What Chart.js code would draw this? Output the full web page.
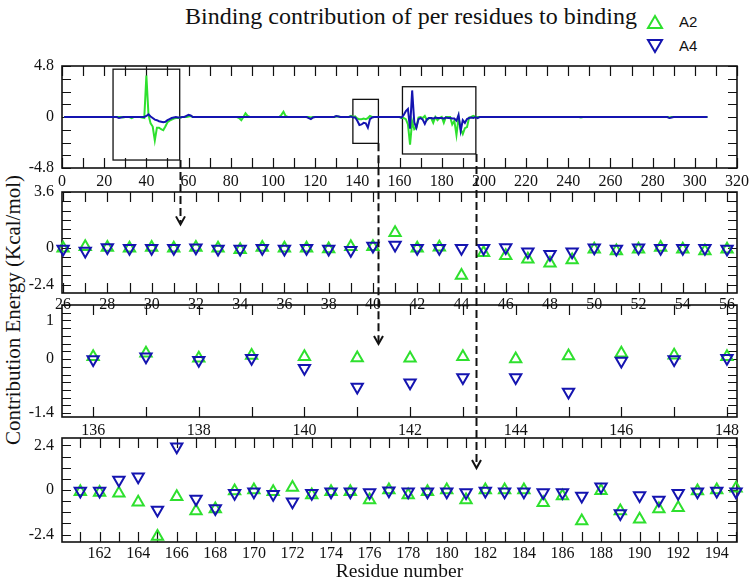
<!DOCTYPE html>
<html>
<head>
<meta charset="utf-8">
<script src="https://cdn.jsdelivr.net/npm/chart.js@4.4.1/dist/chart.umd.min.js"></script>
<style>
  body { margin: 0; background: #fff; }
  #wrap { position: relative; width: 750px; height: 584px; background: #fff; overflow: hidden;
          font-family: "Liberation Serif", "DejaVu Serif", serif; color: #111; }
  #wrap canvas { position: absolute; left: 0; }
  #overlay { pointer-events: none; }
  .title { position: absolute; top: 3px; left: 411px; transform: translateX(-50%); font-size: 24px; white-space: nowrap; }
  .ytitle { position: absolute; left: 13px; top: 310px; transform: translate(-50%, -50%) rotate(-90deg);
            font-size: 21px; white-space: nowrap; }
  .leg { position: absolute; left: 646px; height: 16px; font-family: "Liberation Sans", Arial, sans-serif;
         font-size: 15px; line-height: 16px; }
  .leg svg { position: absolute; left: 0; top: 0; }
  .leg span { position: absolute; left: 33px; top: 0; }
</style>
</head>
<body>
<div id="wrap">
  <div class="title">Binding contribution of per residues to binding</div>
  <div class="leg" style="top:14px"><svg width="18" height="16"><polygon points="9,2 16,14 2,14" fill="none" stroke="#2ee02e" stroke-width="2"/></svg><span>A2</span></div>
  <div class="leg" style="top:38px"><svg width="18" height="16"><polygon points="2,2 16,2 9,14" fill="none" stroke="#1414b0" stroke-width="2"/></svg><span>A4</span></div>
  <div class="ytitle">Contribution Energy (Kcal/mol)</div>
  <canvas id="p1" width="760" height="146" style="top:46px"></canvas>
  <canvas id="p2" width="760" height="145" style="top:172px"></canvas>
  <canvas id="p3" width="760" height="156" style="top:285px"></canvas>
  <canvas id="p4" width="760" height="166" style="top:418px"></canvas>
  <canvas id="overlay" width="750" height="584" style="top:0"></canvas>
</div>
<script>
// top panel: whole chain, residue 1..306
const overviewStart = 1;
const overviewA2 = [
  0, 0, 0, 0, 0, 0, 0, 0, 0, 0,
  0, 0, 0, 0, 0, 0, 0, 0, 0, 0,
  0, 0, 0, 0, 0, 0, 0, 0, -0.05, 0,
  0, 0, -0.1, 0, 0, 0, 0, -0.05, -0.1, 3.9,
  0.2, -0.6, -0.9, -2.2, -1.0, -1.0, -1.15, -1.25, -0.9, -0.5,
  -0.35, -0.25, -0.15, -0.1, -0.1, -0.05, 0, 0, 0, 0.05,
  0.1, 0, 0, 0, 0, 0, 0, 0, 0, 0,
  0, 0, 0, 0, 0, 0, 0, 0, 0, 0,
  0, 0, 0, -0.1, -0.3, 0, 0.35, 0.1, 0, 0,
  0, 0, 0, 0, 0, 0, 0, 0, 0, 0,
  0, 0, 0, 0.2, 0.5, 0.1, 0, 0, 0, 0,
  0, 0, 0, 0, 0, 0, 0, -0.05, 0, 0,
  0, 0, 0, 0, 0, 0, 0, 0, 0, 0.05,
  0.05, 0, 0, 0, 0, 0, 0.1, 0, 0.05, -0.15,
  -0.2, -0.2, -0.15, -0.2, -0.1, 0.1, 0, 0, 0, 0,
  0, 0, 0, 0, 0, 0, 0, 0, 0, 0,
  -0.1, -0.1, -0.2, -0.7, -2.6, -0.4, -1.15, -1.0, -0.05, 0,
  -0.1, 0.1, -0.3, -0.1, -0.1, -0.55, 0, -0.3, -0.1, 0,
  -0.55, 0, 0, 0, -0.7, -0.35, -1.7, -0.05, -1.15, -1.6,
  -1.05, -0.95, -0.05, 0, 0.1, 0, 0, 0, 0, 0,
  0, 0, 0, 0, 0, 0, 0, 0, 0, 0,
  0, 0, 0, 0, 0, 0, 0, 0, 0, 0,
  0, 0, 0, 0, 0, 0, 0, 0, 0, 0,
  0, 0, 0, 0, 0, 0, 0, 0, 0, 0,
  0, 0, 0, 0, 0, -0.05, 0, 0, 0, 0,
  0, 0, 0, 0, 0, 0, 0, 0, 0, 0,
  0, 0, 0, 0, 0, 0, 0, 0, 0, 0,
  0, 0, 0, 0, 0, 0, 0, 0, 0, 0,
  0, 0, 0, 0, 0, 0, 0, -0.05, 0, 0,
  0, 0, 0, 0, 0, 0, 0, 0, 0, 0,
  0, 0, 0, 0, 0, 0
];
const overviewA4 = [
  0, 0, 0, 0, 0, 0, 0, 0, 0, 0,
  0, 0, 0, 0, 0, 0, 0, 0, 0, 0,
  0, 0, 0, 0, 0, 0, -0.1, -0.05, 0, 0,
  0, 0, 0, 0, 0, 0, 0, 0, 0, 0.1,
  0.25, 0.05, -0.1, -0.25, -0.3, -0.4, -0.45, -0.5, -0.45, -0.3,
  -0.2, -0.1, -0.05, 0, -0.05, -0.05, 0, 0, 0.1, 0.2,
  0.15, 0, 0, 0, 0, 0, 0, 0, 0, 0,
  0, 0, 0, 0, 0, 0, 0, 0, 0, 0,
  0, 0, 0, 0, 0, 0, 0, 0, 0, 0,
  0, 0, 0, 0, 0, 0, 0, 0, 0, 0,
  0, 0, 0, 0, 0, 0, 0, 0, 0, 0,
  0, 0, 0, 0, 0, 0, -0.1, -0.2, -0.05, 0,
  0, 0, 0, 0, 0, 0, 0, 0, 0, 0.1,
  0.05, 0, 0, 0, 0, 0, 0.05, -0.05, -0.05, -0.35,
  -0.75, -0.7, -0.55, -0.6, -1.0, -0.2, -0.05, 0, 0, 0,
  0, 0, 0, 0, 0, 0, 0, 0, 0, 0,
  -0.05, 0.2, 0.55, 0.75, -1.1, 2.5, -0.5, -1.0, -0.2, -0.1,
  -0.25, -0.65, -0.2, -0.1, -0.1, -0.15, -0.05, -0.1, -0.1, -0.1,
  -0.15, -0.05, -0.1, -0.1, -0.15, -0.15, -0.35, 0.2, -1.3, -0.3,
  -0.55, -0.2, -0.1, -0.05, -0.1, 0, -0.1, 0, 0, 0,
  0, 0, 0, 0, 0, 0, 0, 0, 0, 0,
  0, 0, 0, 0, 0, 0, 0, 0, 0, 0,
  0, 0, 0, 0, 0, 0, 0, 0, 0, 0,
  0, 0, 0, 0, 0, 0, 0, 0, 0, 0,
  0, 0, 0, 0, 0, 0, 0, 0, 0, 0,
  0, 0, 0, 0, 0, 0, 0, 0, 0, 0,
  0, 0, 0, 0, 0, 0, 0, 0, 0, 0,
  0, 0, 0, 0, 0, 0, 0, 0, 0, 0,
  0, 0, 0, 0, 0, 0, 0, -0.1, -0.05, 0,
  0, 0, 0, 0, 0, 0, 0, 0, 0, 0,
  0, 0, 0, 0, 0, 0
];

// zoomed panels
const p2Res = [26, 27, 28, 29, 30, 31, 32, 33, 34, 35, 36, 37, 38, 39, 40, 41, 42, 43, 44, 45, 46, 47, 48, 49, 50, 51, 52, 53, 54, 55, 56];
const p2A2 = [-0.05, 0.05, 0, -0.05, 0, -0.05, 0, -0.05, -0.15, 0, -0.05, -0.05, -0.1, 0.05, 0.05, 0.95, -0.05, 0.02, -1.82, -0.34, -0.53, -0.76, -1.02, -0.81, -0.12, -0.23, -0.12, 0, -0.12, -0.23, -0.12];
const p2A4 = [-0.1, -0.23, 0, -0.05, -0.05, -0.05, -0.02, -0.1, -0.1, -0.05, -0.1, -0.05, -0.1, -0.18, 0.1, 0.16, -0.05, -0.05, -0.05, -0.05, 0, -0.27, -0.44, -0.27, -0.02, -0.1, -0.02, -0.05, -0.05, -0.05, -0.1];

const p3Res = [136, 137, 138, 139, 140, 141, 142, 143, 144, 145, 146, 147, 148];
const p3A2 = [0.06, 0.15, 0.02, 0.09, 0.06, 0.03, 0.02, 0.06, 0, 0.08, 0.15, 0.1, 0.06];
const p3A4 = [-0.01, 0.06, -0.03, 0.02, -0.24, -0.72, -0.61, -0.48, -0.48, -0.85, -0.05, -0.01, 0.02];

const p4Res = [161, 162, 163, 164, 165, 166, 167, 168, 169, 170, 171, 172, 173, 174, 175, 176, 177, 178,
               179, 180, 181, 182, 183, 184, 185, 186, 187, 188, 189, 190, 191, 192, 193, 194, 195];
const p4A2 = [-0.09, -0.13, -0.18, -0.66, -2.51, -0.36, -1.13, -1.02, -0.05, 0, -0.09, 0.13, -0.27, -0.09, -0.09, -0.54, 0, -0.27,
              -0.09, 0, -0.54, 0, 0, 0, -0.68, -0.32, -1.67, -0.04, -1.13, -1.58, -1.02, -0.95, -0.05, 0, 0.09];
const p4A4 = [-0.05, -0.05, 0.54, 0.72, -1.08, 2.33, -0.48, -0.99, -0.18, -0.09, -0.23, -0.63, -0.18, -0.09, -0.09, -0.14, -0.04, -0.09,
              -0.09, -0.09, -0.14, -0.05, -0.09, -0.09, -0.14, -0.14, -0.32, 0.18, -1.26, -0.3, -0.54, -0.18, -0.09, -0.05, -0.09];

// tick labels
const p1XTicks = [0, 20, 40, 60, 80, 100, 120, 140, 160, 180, 200, 220, 240, 260, 280, 300, 320];
const p1YTicks = [-4.8, 0, 4.8];
const p2XTicks = [26, 28, 30, 32, 34, 36, 38, 40, 42, 44, 46, 48, 50, 52, 54, 56];
const p2YTicks = [-2.4, 0, 3.6];
const p3XTicks = [136, 138, 140, 142, 144, 146, 148];
const p3YTicks = [-1.4, 0, 1];
const p4XTicks = [162, 164, 166, 168, 170, 172, 174, 176, 178, 180, 182, 184, 186, 188, 190, 192, 194];
const p4YTicks = [-2.4, 0, 2.4];

// boxes in the top panel and where their arrows point
const zoomBoxes = [
  { x0: 24.2, x1: 55.8, y0: -4.05, y1: 4.5, target: 'p2', tip: 1.5 },
  { x0: 137.9, x1: 150, y0: -2.48, y1: 1.66, target: 'p3', tip: 0.39 },
  { x0: 161.4, x1: 196.2, y0: -3.48, y1: 2.85, target: 'p4', tip: 1.18 }
];

const GREEN = '#2ee02e';
const BLUE = '#1414b0';
const serif = "'Liberation Serif', 'DejaVu Serif', serif";
const tickFont = { family: serif, size: 16 };

// frame + inward ticks on all four sides
const frameTicks = {
  id: 'frameTicks',
  beforeDatasetsDraw(chart, args, opts) {
    const { ctx, chartArea: a, scales: { x, y } } = chart;
    ctx.save();
    ctx.strokeStyle = '#111';
    ctx.lineWidth = 1.2;
    ctx.beginPath();
    for (let i = Math.ceil(x.min / opts.xStep - 1e-6); i * opts.xStep <= x.max + 1e-6; i++) {
      const px = Math.round(x.getPixelForValue(i * opts.xStep)) + 0.5;
      ctx.moveTo(px, a.bottom); ctx.lineTo(px, a.bottom - 10);
      ctx.moveTo(px, a.top); ctx.lineTo(px, a.top + 10);
    }
    for (let i = Math.ceil(y.min / opts.yStep - 1e-6); i * opts.yStep <= y.max + 1e-6; i++) {
      const py = Math.round(y.getPixelForValue(i * opts.yStep)) + 0.5;
      ctx.moveTo(a.left, py); ctx.lineTo(a.left + 9, py);
      ctx.moveTo(a.right, py); ctx.lineTo(a.right - 9, py);
    }
    ctx.stroke();
    ctx.lineWidth = 1.6;
    ctx.strokeRect(a.left, a.top, a.right - a.left, a.bottom - a.top);
    if (opts.boxes) {
      ctx.lineWidth = 1.3;
      opts.boxes.forEach(b => {
        const l = x.getPixelForValue(b.x0), r = x.getPixelForValue(b.x1);
        const t = y.getPixelForValue(b.y1), btm = y.getPixelForValue(b.y0);
        ctx.strokeRect(l, t, r - l, btm - t);
      });
    }
    ctx.restore();
  }
};

function panel(id, cfg) {
  return new Chart(document.getElementById(id), {
    type: 'scatter',
    data: { datasets: cfg.datasets },
    options: {
      responsive: false,
      animation: false,
      events: [],
      // top/right padding large enough to swallow the edge labels, so the frame lands where wanted
      layout: { autoPadding: false, padding: { top: 20, right: 23, left: 0, bottom: 0 } },
      plugins: { legend: { display: false }, tooltip: { enabled: false }, frameTicks: cfg.minor },
      scales: {
        x: {
          type: 'linear', min: cfg.xMin, max: cfg.xMax,
          grid: { display: false, drawTicks: false }, border: { display: false },
          afterBuildTicks: s => { s.ticks = cfg.xTicks.map(v => ({ value: v })); },
          afterFit: s => { s.height = cfg.xHeight; },
          ticks: { padding: cfg.xPad, color: '#111', font: tickFont, maxRotation: 0, minRotation: 0,
                   autoSkip: false, callback: v => String(v) },
          title: cfg.xTitle
            ? { display: true, text: cfg.xTitle, color: '#111', font: { family: serif, size: 19.5 }, padding: { top: 0, bottom: 0 } }
            : { display: false }
        },
        y: {
          min: cfg.yMin, max: cfg.yMax,
          grid: { display: false, drawTicks: false }, border: { display: false },
          afterBuildTicks: s => { s.ticks = cfg.yTicks.map(v => ({ value: v })); },
          afterFit: s => { s.width = 62; },
          ticks: { padding: 8, color: '#111', font: tickFont, autoSkip: false, callback: v => String(v) }
        }
      }
    },
    plugins: [frameTicks]
  });
}

function points(res, vals) {
  return res.map((r, i) => ({ x: r, y: vals[i] }));
}

function markers(label, res, vals, color, rot, order) {
  return {
    label, data: points(res, vals), order, clip: false,
    pointStyle: 'triangle', pointRotation: rot, pointRadius: 6.5,
    pointBorderWidth: 2, pointBorderColor: color, pointBackgroundColor: 'rgba(0,0,0,0)'
  };
}

function line(label, vals, color, order) {
  return {
    label, data: vals.map((v, i) => ({ x: overviewStart + i, y: v })), order,
    showLine: true, borderColor: color, borderWidth: 2, pointRadius: 0, tension: 0
  };
}

const charts = {};
charts.p1 = panel('p1', {
  datasets: [line('A2', overviewA2, GREEN, 2), line('A4', overviewA4, BLUE, 1)],
  xMin: 0, xMax: 320, yMin: -4.8, yMax: 4.8, xTicks: p1XTicks, yTicks: p1YTicks,
  xHeight: 24, xPad: 4, minor: { xStep: 10, yStep: 1.2, boxes: zoomBoxes }
});
charts.p2 = panel('p2', {
  datasets: [markers('A2', p2Res, p2A2, GREEN, 0, 2), markers('A4', p2Res, p2A4, BLUE, 180, 1)],
  xMin: 25.95, xMax: 56.45, yMin: -2.95, yMax: 3.6, xTicks: p2XTicks, yTicks: p2YTicks,
  xHeight: 24, xPad: 2, minor: { xStep: 1, yStep: 0.6 }
});
charts.p3 = panel('p3', {
  datasets: [markers('A2', p3Res, p3A2, GREEN, 0, 2), markers('A4', p3Res, p3A4, BLUE, 180, 1)],
  xMin: 135.41, xMax: 148.19, yMin: -1.5, yMax: 1.4, xTicks: p3XTicks, yTicks: p3YTicks,
  xHeight: 24, xPad: 4, minor: { xStep: 1, yStep: 0.2 }
});
charts.p4 = panel('p4', {
  datasets: [markers('A2', p4Res, p4A2, GREEN, 0, 2), markers('A4', p4Res, p4A4, BLUE, 180, 1)],
  xMin: 160.05, xMax: 195.05, yMin: -2.8, yMax: 2.8, xTicks: p4XTicks, yTicks: p4YTicks,
  xHeight: 42, xPad: 2, xTitle: 'Residue number', minor: { xStep: 1, yStep: 0.6 }
});

// dashed arrows from each box down to its zoomed panel
const octx = document.getElementById('overlay').getContext('2d');
octx.strokeStyle = '#111';
octx.lineWidth = 2;
zoomBoxes.forEach(b => {
  const src = charts.p1, dst = charts[b.target];
  const x = Math.round(src.scales.x.getPixelForValue(b.x1)) + 0.5;
  const y0 = src.canvas.offsetTop + src.scales.y.getPixelForValue(b.y0);
  const y1 = dst.canvas.offsetTop + dst.scales.y.getPixelForValue(b.tip);
  octx.setLineDash([8, 4]);
  octx.beginPath();
  octx.moveTo(x, y0);
  octx.lineTo(x, y1 - 2);
  octx.stroke();
  octx.setLineDash([]);
  octx.beginPath();
  octx.moveTo(x - 4.5, y1 - 8);
  octx.lineTo(x, y1);
  octx.lineTo(x + 4.5, y1 - 8);
  octx.stroke();
});
</script>
</body>
</html>
